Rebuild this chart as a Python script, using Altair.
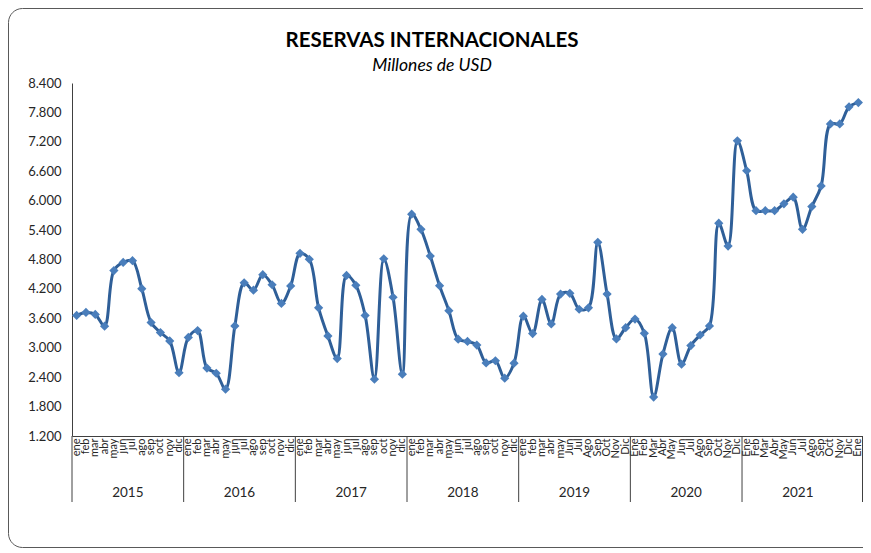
import altair as alt
import pandas as pd

# ---------------- data ----------------
years = ["2015", "2016", "2017", "2018", "2019", "2020", "2021"]

months_low = ["ene", "feb", "mar", "abr", "may", "jun", "jul", "ago", "sep", "oct", "nov", "dic"]
months_2019 = ["ene", "feb", "mar", "abr", "may", "Jun", "Jul", "Ago", "Sep", "Oct", "Nov", "Dic"]
months_2020 = ["Ene", "Feb", "Mar", "Abr", "May", "Jun", "Jul", "Ago", "Sep", "Oct", "Nov", "Dic"]
months_2021 = ["Ene", "Feb", "Mar", "Abr", "May", "Jun", "Jul", "Ago", "Sep", "Oct", "Nov", "Dic", "Ene"]

values_2015 = [3660, 3720, 3680, 3440, 4575, 4740, 4775, 4205, 3515, 3310, 3140, 2490]
values_2016 = [3210, 3350, 2585, 2480, 2155, 3445, 4325, 4175, 4490, 4285, 3905, 4260]
values_2017 = [4925, 4805, 3815, 3240, 2780, 4475, 4275, 3660, 2360, 4815, 4030, 2460]
values_2018 = [5725, 5415, 4870, 4265, 3755, 3175, 3130, 3055, 2690, 2735, 2380, 2685]
values_2019 = [3645, 3290, 3985, 3485, 4095, 4110, 3785, 3815, 5150, 4095, 3180, 3410]
values_2020 = [3585, 3295, 1995, 2870, 3410, 2665, 3045, 3260, 3445, 5540, 5075, 7220]
values_2021 = [6610, 5795, 5795, 5795, 5935, 6070, 5415, 5880, 6300, 7565, 7565, 7915, 8000]

y_ticks = [1200, 1800, 2400, 3000, 3600, 4200, 4800, 5400, 6000, 6600, 7200, 7800, 8400]

title_text = "RESERVAS INTERNACIONALES"
subtitle_text = "Millones de USD"

month_sets = [months_low, months_low, months_low, months_low, months_2019, months_2020, months_2021]
value_sets = [values_2015, values_2016, values_2017, values_2018, values_2019, values_2020, values_2021]

rows = []
idx = 0
for yr, ms, vs in zip(years, month_sets, value_sets):
    for pos, (m, v) in enumerate(zip(ms, vs)):
        rows.append({"key": f"{idx:02d}|{m}", "year": yr, "month_pos": pos, "value": v})
        idx += 1
df = pd.DataFrame(rows)
keys = list(df["key"])

starts = df[df["month_pos"] == 0][["key", "year"]]
mids = df[df["month_pos"] == 6][["key", "year"]]

# ---------------- styling ----------------
FONT = "Lato"
TXT = "#262626"
AX = "#404040"
W, H = 791, 353

xscale = alt.Scale(type="band", domain=keys, paddingInner=0, paddingOuter=0)
yscale = alt.Scale(domain=[1200, 8400], nice=False, zero=False)

xaxis = alt.Axis(title=None, labelExpr="split(datum.value, '|')[1]",
                 labelAngle=270, labelAlign="right", labelBaseline="middle",
                 labelPadding=2, ticks=False, domainColor=AX, domainWidth=1,
                 labelFontSize=11, labelColor=TXT, labelFont=FONT,
                 labelOverlap=False)
yaxis = alt.Axis(title=None, values=y_ticks, grid=False, ticks=False,
                 labelExpr="replace(format(datum.value, ','), ',', '.')",
                 labelPadding=11, domainColor=AX, domainWidth=1,
                 labelFontSize=13, labelColor=TXT, labelFont=FONT)


def xenc(bp):
    return alt.X("key:O", scale=xscale, bandPosition=bp, axis=xaxis)


yenc = alt.Y("value:Q", scale=yscale, axis=yaxis)

base = alt.Chart(df)

line = base.mark_line(interpolate="catmull-rom", color="#2f5f98", strokeWidth=3).encode(
    x=xenc(0.5), y=yenc)

points = base.mark_point(shape="diamond", size=85, filled=True, color="#4a7ebb", opacity=1).encode(
    x=xenc(0.5), y=yenc)

seps = alt.Chart(starts).mark_rule(color=AX, strokeWidth=1).encode(
    x=xenc(0), y=alt.value(H), y2=alt.value(H + 66))

sep_end = alt.Chart(pd.DataFrame({"a": [0]})).mark_rule(color=AX, strokeWidth=1).encode(
    x=alt.value(W - 0.5), y=alt.value(H), y2=alt.value(H + 66))

year_labels = alt.Chart(mids).mark_text(font=FONT, fontSize=13.5, color=TXT, baseline="middle").encode(
    x=xenc(0), y=alt.value(H + 57), text="year:N")

title = alt.Chart(pd.DataFrame({"t": [title_text]})).mark_text(
    font=FONT, fontSize=20.5, fontWeight="bold", color="#000000", baseline="alphabetic", align="center"
).encode(text="t:N", x=alt.value(360), y=alt.value(-36))

subtitle = alt.Chart(pd.DataFrame({"t": [subtitle_text]})).mark_text(
    font=FONT, fontSize=17.5, fontStyle="italic", color="#000000", baseline="alphabetic", align="center"
).encode(text="t:N", x=alt.value(360), y=alt.value(-12))

frame = alt.Chart(pd.DataFrame({"a": [0]})).mark_rect(
    fill=None, stroke="#595959", strokeWidth=1, cornerRadius=14, clip=False
).encode(x=alt.value(-63.5), x2=alt.value(W + 300), y=alt.value(-74.5), y2=alt.value(464.5))

chart = alt.layer(frame, seps, sep_end, year_labels, line, points, title, subtitle).properties(
    width=W, height=H,
    autosize=alt.AutoSizeParams(type="none"),
    padding={"left": 64, "top": 75, "right": 0, "bottom": 117},
).configure(font=FONT).configure_view(stroke=None)

chart.save("out.html", embed_options={"renderer": "svg", "actions": False})
